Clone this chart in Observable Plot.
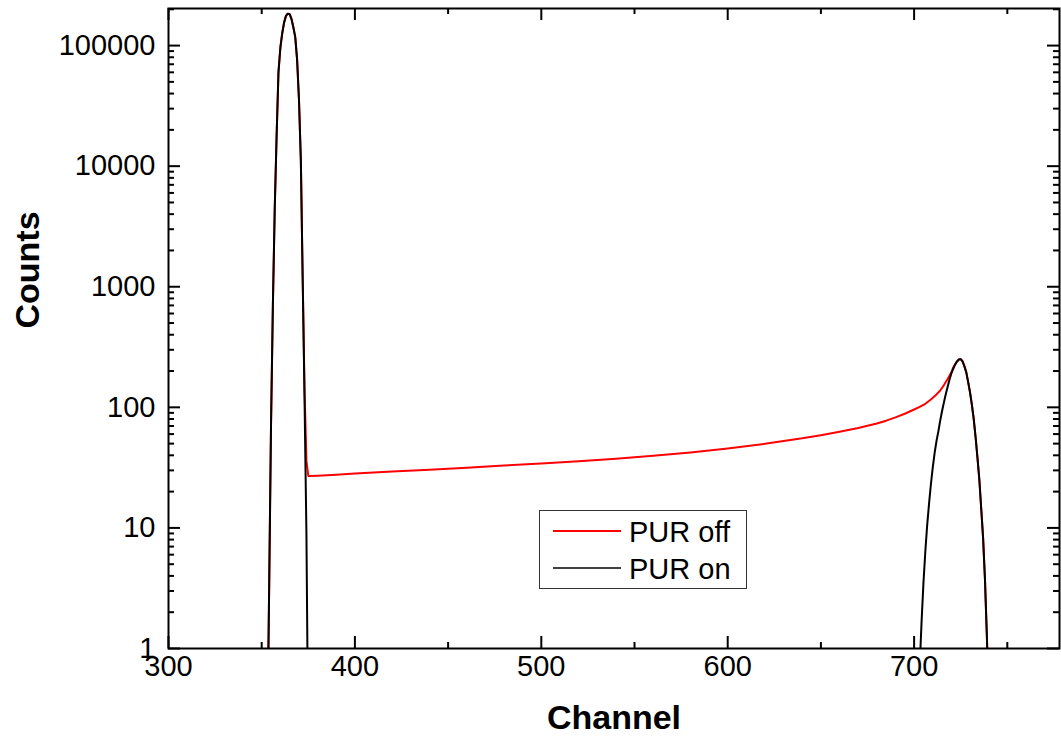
<!DOCTYPE html>
<html>
<head>
<meta charset="utf-8">
<script src="https://cdn.jsdelivr.net/npm/d3@7"></script>
<script src="https://cdn.jsdelivr.net/npm/@observablehq/plot@0.6"></script>
<style>
  body { margin: 0; background: #fff; }
  #chart { position: relative; width: 1061px; height: 746px; }
</style>
</head>
<body>
<div id="chart"></div>
<script>
// ---- data ----
const seriesNames = ["PUR off", "PUR on"];
const seriesColors = ["#ff0000", "#000000"];

// PUR on (black)
const onChannels = [353,354,355,356,357,358,359,360,361,362,363,364,365,366,367,368,369,370,371,372,373,374,375,
  703,704,705,706,707,708,709,710,711,712,713,714,715,716,717,718,719,720,721,722,723,724,725,
  726,727,728,729,730,731,732,733,734,735,736,737,738,739,740];
const onCounts = [0.16,3.2,71,708,4470,17800,60300,95500,126000,155000,176000,184000,182000,166000,141000,117500,76000,35500,11200,1120,112,8.9,0.13,
  0.71,1.66,3.47,6.31,10.5,15.8,22.9,31.6,41.7,52.5,63.1,77.6,93.3,110,129,148,170,191,209,226,240,249,251,
  240,219,195,162,133,105,79.4,56.2,38.0,25.1,14.5,8.3,3.8,1.32,0.4];

// PUR off (red)
const offChannels = [353,354,355,356,357,358,359,360,361,362,363,364,365,366,367,368,369,370,371,372,373,374,375,
  376,380,390,400,420,440,460,480,500,520,540,560,580,600,620,640,650,660,670,680,685,690,695,700,703,706,709,712,714,716,718,720,
  721,722,723,724,725,726,727,728,729,730,731,732,733,734,735,736,737,738,739,740];
const offCounts = [0.16,3.2,71,708,4470,17800,60300,95500,126000,155000,176000,184000,182000,166000,141000,117500,76000,35500,11200,1147,139,36,27,
  26.9,27.1,27.6,28.2,29.3,30.4,31.6,32.9,34.2,35.7,37.4,39.6,42.3,45.6,49.8,55.3,58.8,62.8,67.3,73.5,77.5,82.5,88.5,96,101,107,116,128,138,153,172,195,
  215,228,240,249,251,240,219,195,162,133,105,79.4,56.2,38.0,25.1,14.5,8.3,3.8,1.32,0.4];

// axes
const xTickValues = [300, 400, 500, 600, 700];
const xTickLabels = ["300", "400", "500", "600", "700"];
const xMinorTicks = [350, 450, 550, 650, 750];
const yTickValues = [1, 10, 100, 1000, 10000, 100000];
const yTickLabels = ["1", "10", "100", "1000", "10000", "100000"];
const xTitle = "Channel";
const yTitle = "Counts";

// ---- build ----
const onData = onChannels.map((ch, i) => ({ch, c: onCounts[i]}));
const offData = offChannels.map((ch, i) => ({ch, c: offCounts[i]}));
const yMinorTicks = [];
for (const d of yTickValues) for (let k = 2; k <= 9; k++) if (d * k < 203000) yMinorTicks.push(d * k);

const W = 1061, H = 746, mL = 168, mR = 2, mT = 8, mB = 98;
const pW = W - mL - mR, pH = H - mT - mB;
const MAJ = 12, MIN = 6;
const font = "'Liberation Sans', Arial, Helvetica, sans-serif";

const plot = Plot.plot({
  width: W, height: H,
  marginLeft: mL, marginRight: mR, marginTop: mT, marginBottom: mB,
  style: {fontFamily: font, background: "#fff", color: "#000", overflow: "visible"},
  x: {domain: [300, 778], axis: null},
  y: {type: "log", domain: [1, 203000], axis: null},
  marks: [
    Plot.line(offData, {x: "ch", y: "c", stroke: seriesColors[0], strokeWidth: 2, clip: true}),
    Plot.line(onData, {x: "ch", y: "c", stroke: seriesColors[1], strokeWidth: 2, clip: true}),
    // inward ticks, bottom & top
    Plot.tickX(xTickValues, {x: d => d, insetTop: pH - MAJ, stroke: "#000", strokeWidth: 2}),
    Plot.tickX(xTickValues, {x: d => d, insetBottom: pH - MAJ, stroke: "#000", strokeWidth: 2}),
    Plot.tickX(xMinorTicks, {x: d => d, insetTop: pH - MIN, stroke: "#000", strokeWidth: 2}),
    Plot.tickX(xMinorTicks, {x: d => d, insetBottom: pH - MIN, stroke: "#000", strokeWidth: 2}),
    // inward ticks, left & right
    Plot.tickY(yTickValues, {y: d => d, insetRight: pW - MAJ, stroke: "#000", strokeWidth: 2}),
    Plot.tickY(yTickValues, {y: d => d, insetLeft: pW - MAJ, stroke: "#000", strokeWidth: 2}),
    Plot.tickY(yMinorTicks, {y: d => d, insetRight: pW - MIN, stroke: "#000", strokeWidth: 2}),
    Plot.tickY(yMinorTicks, {y: d => d, insetLeft: pW - MIN, stroke: "#000", strokeWidth: 2}),
    Plot.frame({stroke: "#000", strokeWidth: 2}),
    // tick labels
    Plot.text(xTickValues, {x: d => d, text: (d, i) => xTickLabels[i], frameAnchor: "bottom", dy: 27, fontSize: 29, fill: "#000"}),
    Plot.text(yTickValues, {y: d => d, text: (d, i) => yTickLabels[i], frameAnchor: "left", dx: -13, textAnchor: "end", fontSize: 29, fill: "#000"}),
    // titles
    Plot.text([xTitle], {frameAnchor: "bottom", dy: 80, fontSize: 34, fontWeight: "bold", fill: "#000"}),
    Plot.text([yTitle], {frameAnchor: "left", dx: -140, rotate: -90, fontSize: 34, fontWeight: "bold", fill: "#000"})
  ]
});

document.getElementById("chart").appendChild(plot);

// legend (inside plot area)
const svg = d3.select(plot);
const lg = svg.append("g").attr("font-family", font).attr("font-size", 29).attr("text-anchor", "start");
lg.append("rect").attr("x", 539.5).attr("y", 510.5).attr("width", 207).attr("height", 78)
  .attr("fill", "#fff").attr("stroke", "#333").attr("stroke-width", 1);
const rows = [{y: 531, base: 541.5, w: 2}, {y: 568, base: 578.5, w: 1.5}];
seriesNames.forEach((name, i) => {
  lg.append("line").attr("x1", 553).attr("x2", 621).attr("y1", rows[i].y).attr("y2", rows[i].y)
    .attr("stroke", seriesColors[i]).attr("stroke-width", rows[i].w);
  lg.append("text").attr("x", 629).attr("y", rows[i].base).attr("fill", "#000")
    .style("font-size", "29px").style("text-anchor", "start").text(name);
});
</script>
</body>
</html>
